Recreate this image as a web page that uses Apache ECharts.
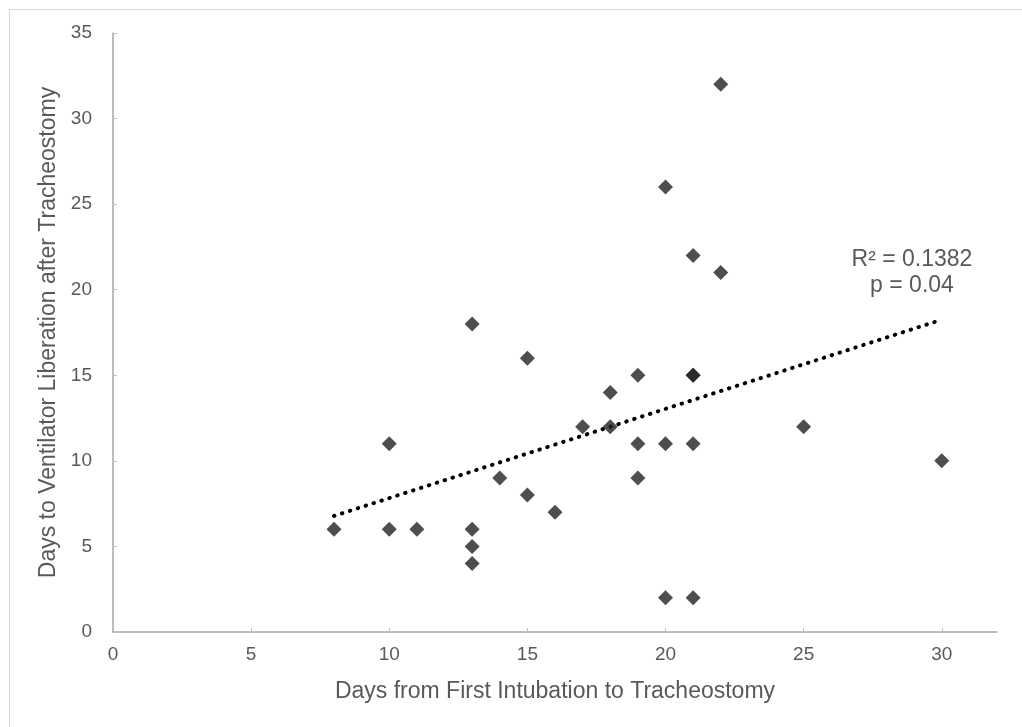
<!DOCTYPE html>
<html>
<head>
<meta charset="utf-8">
<script src="https://cdn.jsdelivr.net/npm/echarts@6/dist/echarts.min.js"></script>
<style>
  html, body { margin: 0; padding: 0; background: #fff; }
  #frame {
    position: absolute; left: 9px; top: 9px; width: 1013px; height: 718px;
    border-left: 1.5px solid #d6d6d6; border-top: 1.5px solid #d6d6d6;
  }
  #chart { position: absolute; left: 0; top: 0; width: 1022px; height: 727px; }
</style>
</head>
<body>
<div id="frame"></div>
<div id="chart"></div>
<script>
// 散点数据 (x: 插管天数, y: 脱机天数)
const xDays = [8, 10, 10, 11, 13, 13, 13, 13, 14, 15, 15, 16, 17, 18, 18, 19, 19, 19, 20, 20, 20, 21, 21, 21, 21, 21, 22, 22, 25, 30]
const yDays = [6, 11, 6, 6, 18, 6, 5, 4, 9, 16, 8, 7, 12, 14, 12, 15, 11, 9, 26, 11, 2, 22, 15, 15, 11, 2, 32, 21, 12, 10]

// 趋势线端点
const trendX = [8, 30]
const trendY = [6.78, 18.25]

const xTicks = [0, 5, 10, 15, 20, 25, 30]
const yTicks = [0, 5, 10, 15, 20, 25, 30, 35]
const statsText = ['R² = 0.1382', 'p = 0.04']

const chartBox = echarts.init(document.getElementById('chart'))

const font = '"Liberation Sans", Arial, sans-serif'
const grey = '#595959'

const option = {
  animation: false,
  grid: { left: 113, right: 25, top: 33, bottom: 95 },
  xAxis: {
    type: 'value',
    min: 0,
    max: 32,
    name: 'Days from First Intubation to Tracheostomy',
    nameLocation: 'middle',
    nameGap: 48,
    nameTextStyle: { color: grey, fontSize: 23, fontFamily: font },
    splitLine: { show: false },
    axisLine: { lineStyle: { color: '#a6a6a6', width: 1.5 } },
    axisTick: { inside: true, length: 4, customValues: xTicks, lineStyle: { color: '#bfbfbf' } },
    axisLabel: { customValues: xTicks, color: grey, fontSize: 19, fontFamily: font, margin: 13 }
  },
  yAxis: {
    type: 'value',
    min: 0,
    max: 35,
    interval: 5,
    name: 'Days to Ventilator Liberation after Tracheostomy',
    nameLocation: 'middle',
    nameGap: 52,
    nameTextStyle: { color: grey, fontSize: 23, fontFamily: font },
    splitLine: { show: false },
    axisLine: { show: true, lineStyle: { color: '#a6a6a6', width: 1.5 } },
    axisTick: { show: true, inside: true, length: 4, customValues: yTicks, lineStyle: { color: '#bfbfbf' } },
    axisLabel: { customValues: yTicks, color: grey, fontSize: 19, fontFamily: font, margin: 21 }
  },
  series: [
    {
      name: 'points',
      type: 'scatter',
      symbol: 'diamond',
      symbolSize: 15,
      itemStyle: { color: '#222222' },
      data: xDays.map((x, i) => [x, yDays[i]]),
      z: 3
    },
    {
      name: 'trend',
      type: 'line',
      showSymbol: false,
      symbol: 'none',
      lineStyle: { color: '#000', width: 4, type: [0.5, 7.8], cap: 'round' },
      data: trendX.map((x, i) => [x, trendY[i]]),
      z: 2
    }
  ],
  graphic: [
    {
      type: 'text',
      x: 912,
      y: 247,
      style: {
        text: statsText.join('\n'),
        align: 'center',
        fill: grey,
        fontSize: 23,
        lineHeight: 26,
        fontFamily: font
      }
    }
  ]
}

chartBox.setOption(option, true)
window.addEventListener('resize', function () {
  chartBox.resize()
})
</script>
</body>
</html>
